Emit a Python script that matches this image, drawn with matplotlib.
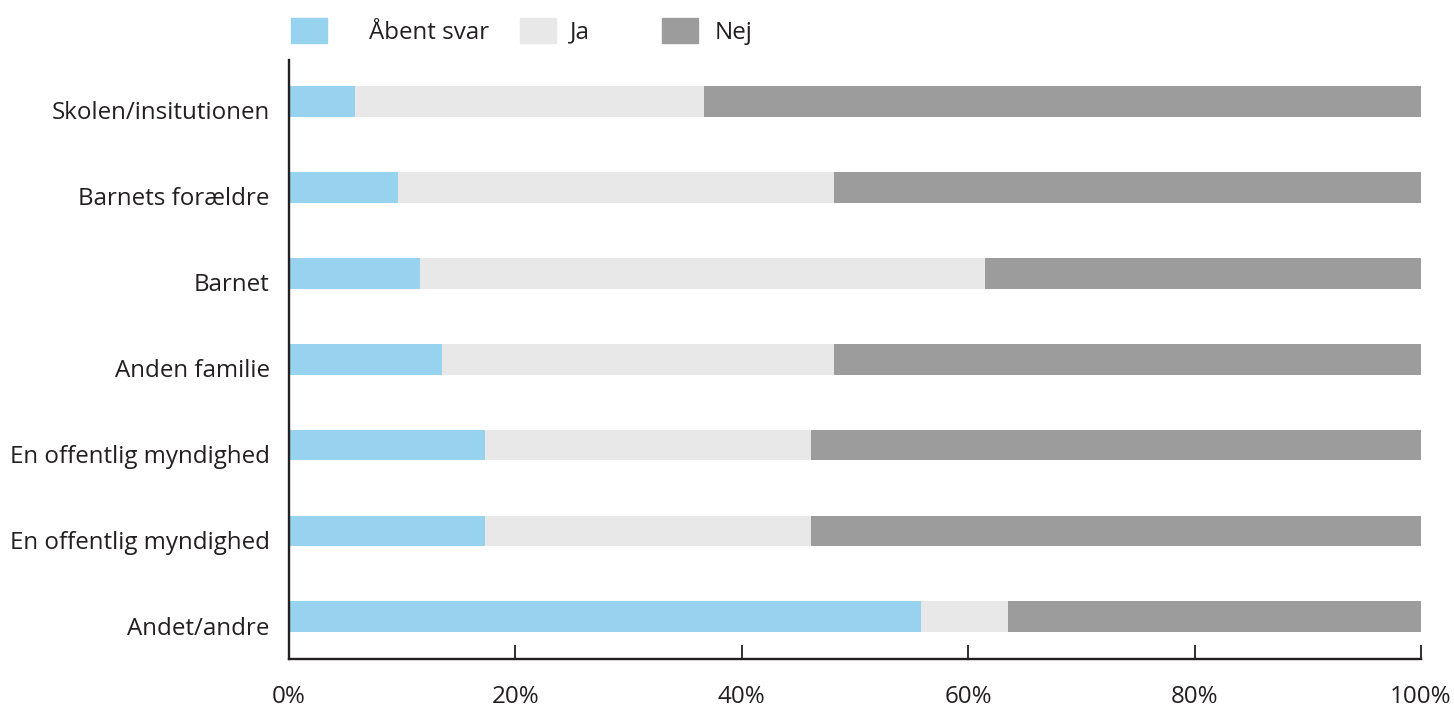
import numpy as np
import matplotlib.pyplot as plt
from matplotlib.patches import Patch

plt.rcParams['font.family'] = ['Open Sans', 'DejaVu Sans']

categories = ['Skolen/insitutionen', 'Barnets forældre', 'Barnet', 'Anden familie',
              'En offentlig myndighed', 'En offentlig myndighed', 'Andet/andre']
aabent = [5.8, 9.6, 11.6, 13.5, 17.3, 17.3, 55.8]
ja = [30.9, 38.5, 49.9, 34.6, 28.8, 28.8, 7.7]
nej = [63.3, 51.9, 38.5, 51.9, 53.9, 53.9, 36.5]
series_names = ['Åbent svar', 'Ja', 'Nej']
colors = ['#97D3EE', '#E8E8E8', '#9C9C9C']
xticks = [0, 20, 40, 60, 80, 100]

fs = 17.4
fig = plt.figure(figsize=(14.54, 7.11), dpi=100)
ax = fig.add_axes([0.1988, 0.0731, 0.7785, 0.8425])

y = np.arange(len(categories))
left = np.zeros(len(categories))
for vals, name, col in zip([aabent, ja, nej], series_names, colors):
    ax.barh(y, vals, left=left, height=0.36, color=col, label=name)
    left += np.array(vals)

ax.set_xlim(0, 100)
ax.set_ylim(6.49, -0.48)
ax.set_yticks(y)
ax.set_yticklabels(categories, fontsize=fs, color='#231F20')
ax.set_xticks(xticks)
ax.set_xticklabels([f'{t}%' for t in xticks], fontsize=fs, color='#231F20')

# labels sit a little below the bar centre in the original
for lab in ax.get_yticklabels():
    lab.set_verticalalignment('top')

for s in ['top', 'right']:
    ax.spines[s].set_visible(False)
for s in ['left', 'bottom']:
    ax.spines[s].set_linewidth(1.7)
    ax.spines[s].set_color('#231F20')
ax.tick_params(axis='x', direction='in', length=10, width=1.3, pad=19, color='#231F20')
ax.tick_params(axis='y', length=0, pad=14)

# legend, one entry each so spacing can follow the original
leg_x = [0.2000, 0.3576, 0.4553]
text_pads = [1.75, 0.6, 0.7]
for name, col, lx, tp in zip(series_names, colors, leg_x, text_pads):
    leg = fig.legend(handles=[Patch(color=col)], labels=[name], loc='center left',
                     bbox_to_anchor=(lx, 0.956), frameon=False, fontsize=fs,
                     handlelength=1.48, handleheight=1.2, handletextpad=tp,
                     borderaxespad=0, borderpad=0)
    for t in leg.get_texts():
        t.set_color('#231F20')

fig.savefig('out.png', dpi=100)
